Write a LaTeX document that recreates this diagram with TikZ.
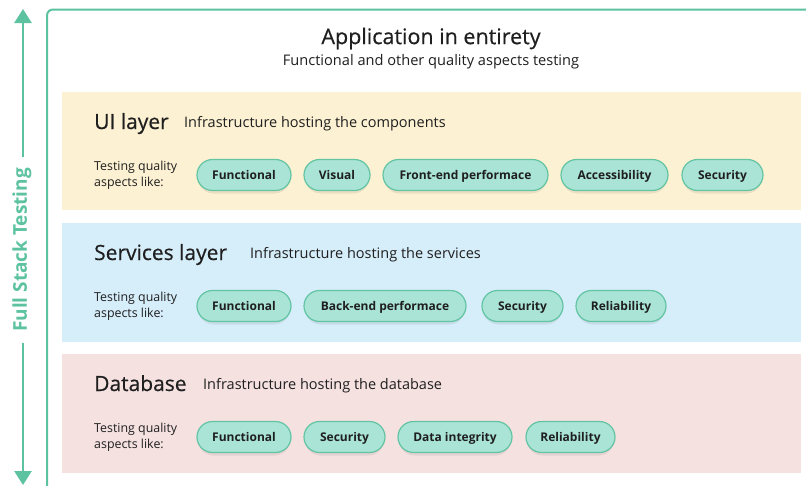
\documentclass[tikz,border=0pt]{standalone}
\usepackage{fontspec}
\setmainfont{Open Sans}
\newfontfamily\medfont[FakeBold=0.5]{Open Sans}
\usetikzlibrary{arrows.meta}
\definecolor{teal}{HTML}{5CC29F}
\definecolor{pillfill}{HTML}{A9E4D7}
\definecolor{pilledge}{HTML}{62C4A2}
\definecolor{uibg}{HTML}{FCF1D2}
\definecolor{svbg}{HTML}{D6EDFA}
\definecolor{dbbg}{HTML}{F6E1E1}
\definecolor{ink}{HTML}{1F1F1F}
\tikzset{
  pill/.style={draw=pilledge, line width=1.2pt, fill=pillfill, rounded corners=15.5pt,
    minimum height=31pt, inner xsep=0pt, text=ink, text height=10.5pt, text depth=2pt,
    font=\fontsize{12}{14}\selectfont\bfseries},
  layertitle/.style={anchor=base west, text=ink, font=\medfont\fontsize{21}{24}\selectfont, inner sep=0pt},
  layerdesc/.style={anchor=base west, text=ink, font=\fontsize{14.5}{17}\selectfont, inner sep=0pt},
  aspects/.style={anchor=west, text=ink, font=\fontsize{12.4}{16}\selectfont, align=left, inner sep=0pt},
}
% pill: name, left edge, right edge, centre y, label
\newcommand{\pillat}[5]{%
  \fill[black, opacity=0.07, rounded corners=15.5pt] (#2pt+1pt,#4-13.5) rectangle (#3pt-1pt,#4+18.5);
  \node[pill, minimum width={#3pt-#2pt}] (#1) at ({(#2+#3)/2}, #4) {#5};}
\begin{document}
\begin{tikzpicture}[x=1pt, y=-1pt]
\useasboundingbox (0,0) rectangle (806,485);
\fill[white] (0,0) rectangle (806,485);

% outer frame
\draw[teal, line width=2pt, rounded corners=6pt] (47,490) -- (47,9.5) -- (812,9.5);

% title
\node[text=ink, font=\medfont\fontsize{21.5}{25}\selectfont] (title) at (431,38.5) {Application in entirety};
\node[text=ink, font=\fontsize{14.6}{17}\selectfont] (subtitle) at (431,62) {Functional and other quality aspects testing};

% layers
\fill[uibg] (62,92) rectangle (801,210);
\fill[svbg] (62,223) rectangle (801,342);
\fill[dbbg] (62,354) rectangle (801,473);

% UI layer
\node[layertitle] (uititle) at (94,129) {UI layer};
\node[layerdesc] (uidesc) at (184,127) {Infrastructure hosting the components};
\node[aspects] (uiasp) at (94,175) {Testing quality\\aspects like:};
\pillat{uifun}{197}{291}{175}{Functional}
\pillat{uivis}{304}{370}{175}{Visual}
\pillat{uifront}{383}{548}{175}{Front-end performace}
\pillat{uiacc}{561}{668}{175}{Accessibility}
\pillat{uisec}{682}{763}{175}{Security}

% Services layer
\node[layertitle] (svtitle) at (94,260) {Services layer};
\node[layerdesc] (svdesc) at (250,258) {Infrastructure hosting the services};
\node[aspects] (svasp) at (94,306) {Testing quality\\aspects like:};
\pillat{svfun}{197}{291}{306}{Functional}
\pillat{svback}{304}{466}{306}{Back-end performace}
\pillat{svsec}{482}{563}{306}{Security}
\pillat{svrel}{576}{666}{306}{Reliability}

% Database layer
\node[layertitle] (dbtitle) at (94,391) {Database};
\node[layerdesc] (dbdesc) at (203,389) {Infrastructure hosting the database};
\node[aspects] (dbasp) at (94,437) {Testing quality\\aspects like:};
\pillat{dbfun}{197}{291}{437}{Functional}
\pillat{dbsec}{304}{385}{437}{Security}
\pillat{dbint}{398}{512}{437}{Data integrity}
\pillat{dbrel}{526}{615}{437}{Reliability}

% full stack arrow
\coordinate (top) at (23,9);
\coordinate (bot) at (23,485);
\draw[teal, line width=2.6pt, {Triangle[length=14pt,width=17pt]}-{Triangle[length=14pt,width=17pt]}] (top) -- (bot);
\node[fill=white, rotate=90, text=teal, inner xsep=11pt, inner ysep=2pt,
  font=\fontsize{19}{21}\selectfont\bfseries] (fst) at (22,250) {Full Stack Testing};
\end{tikzpicture}
\end{document}
